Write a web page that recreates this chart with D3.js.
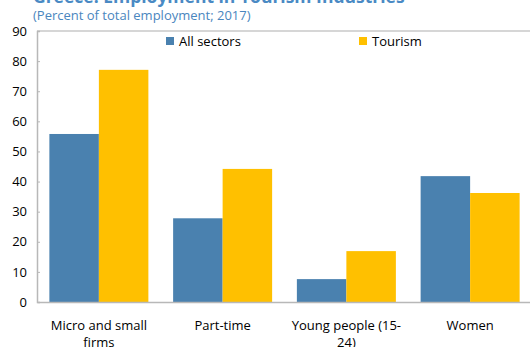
<!DOCTYPE html>
<html>
<head>
<meta charset="utf-8">
<script src="https://cdn.jsdelivr.net/npm/d3@7"></script>
<style>
  body { margin: 0; background: #fff; }
  text { font-family: "Open Sans", "Noto Sans", sans-serif; }
</style>
</head>
<body>
<div id="chart"></div>
<script>
const categories = ["Micro and small firms", "Part-time", "Young people (15-24)", "Women"];
const categoryLines = [["Micro and small", "firms"], ["Part-time"], ["Young people (15-", "24)"], ["Women"]];
const seriesNames = ["All sectors", "Tourism"];
const allSectors = [55.8, 27.8, 7.6, 41.8];
const tourism = [77.1, 44.2, 16.9, 36.2];
const yTicks = [0, 10, 20, 30, 40, 50, 60, 70, 80, 90];
const colors = ["#4a81af", "#ffc000"];

const fullWidth = 530, fullHeight = 347;
const margin = { top: 31, right: -2, bottom: 45, left: 37 };
const width = fullWidth - margin.left - margin.right;
const height = fullHeight - margin.top - margin.bottom;

const svg = d3.select("#chart").append("svg")
  .attr("width", fullWidth)
  .attr("height", fullHeight);

// title (cut off at top like the reference)
svg.append("text")
  .attr("x", 33).attr("y", 3)
  .style("font-size", "17.5px").style("font-weight", "bold")
  .style("fill", "#4a8ac4")
  .text("Greece: Employment in Tourism Industries");

svg.append("text")
  .attr("x", 33).attr("y", 20)
  .style("font-size", "13px")
  .style("fill", "#4a86be")
  .text("(Percent of total employment; 2017)");

const chart = svg.append("g").attr("transform", `translate(${margin.left},${margin.top})`);

const x0 = d3.scaleBand().domain(categories).range([0, width]).paddingInner(0.2).paddingOuter(0.1);
const x1 = d3.scaleBand().domain(seriesNames).range([0, x0.bandwidth()]);
const y = d3.scaleLinear().domain([0, 90]).range([height, 0]);

// frame top line
chart.append("line")
  .attr("x1", 0).attr("x2", width + 10)
  .attr("y1", 0).attr("y2", 0)
  .attr("stroke", "#c8c8c8").attr("stroke-width", 1.5);

const data = categories.map((c, i) => ({ cat: c, values: [allSectors[i], tourism[i]] }));

const groups = chart.selectAll("g.grp").data(data).enter().append("g")
  .attr("transform", d => `translate(${x0(d.cat)},0)`);

groups.selectAll("rect").data(d => d.values.map((v, j) => ({ key: seriesNames[j], v, j })))
  .enter().append("rect")
  .attr("x", d => x1(d.key))
  .attr("width", x1.bandwidth())
  .attr("y", d => y(d.v))
  .attr("height", d => y(0) - y(d.v))
  .attr("fill", d => colors[d.j]);

// y axis
const yAxis = chart.append("g")
  .call(d3.axisLeft(y).tickValues(yTicks).tickSize(-3).tickPadding(10));
yAxis.select(".domain").attr("stroke", "#b8b8b8").attr("stroke-width", 1.5);
yAxis.selectAll(".tick line").attr("stroke", "#b8b8b8");
yAxis.selectAll("text")
  .style("font-family", '"Open Sans", "Noto Sans", sans-serif')
  .style("font-size", "13px").style("fill", "#000");

// x axis
const xAxis = chart.append("g")
  .attr("transform", `translate(0,${height})`)
  .call(d3.axisBottom(x0).tickSize(0).tickFormat(""));
xAxis.select(".domain").attr("stroke", "#b8b8b8").attr("stroke-width", 1.5);
xAxis.selectAll(".tick").each(function(d, i) {
  const t = d3.select(this).append("text")
    .attr("text-anchor", "middle")
    .style("font-size", "13px").style("fill", "#000");
  categoryLines[i].forEach((line, k) => {
    t.append("tspan").attr("x", 0).attr("y", 28 + k * 17).text(line);
  });
});

// legend
const legendPos = [166, 359];
seriesNames.forEach((s, i) => {
  const lg = svg.append("g").attr("transform", `translate(${legendPos[i]},37)`);
  lg.append("rect").attr("width", 8).attr("height", 8).attr("fill", colors[i]);
  lg.append("text").attr("x", 13).attr("y", 9)
    .style("font-size", "13px").style("fill", "#000").text(s);
});
</script>
</body>
</html>
